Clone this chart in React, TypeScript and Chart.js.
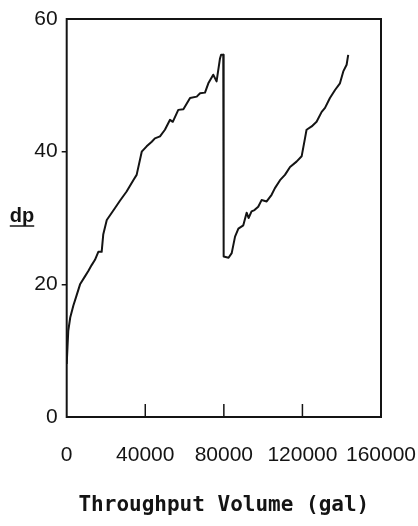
import React, { useEffect, useRef } from "react";
import { Chart, registerables } from "chart.js";

Chart.register(...registerables);

// Throughput volume (gal)
const volume = [
  0, 400, 800, 1800, 3400, 5000, 6800, 9300, 11000, 12700, 14400, 16100, 17800, 18600, 20400,
  22500, 24600, 27100, 30500, 33900, 35600, 38200, 40700, 43300, 44900, 47500, 50000, 52600,
  54000, 56800, 59400, 62800, 66200, 67900, 70400, 72100, 74600, 76300, 78000, 78600, 79700,
  79900, 82400, 84000, 85700, 87400, 89900, 91600, 92600, 94100, 95600, 97500, 99200, 101800,
  104300, 106000, 108600, 111100, 113700, 117000, 119600, 121300, 122100, 124700, 127200,
  129800, 131500, 134000, 136600, 139100, 140800, 142500, 143300,
];
// dp
const dp = [
  8.0, 10.5, 13.0, 15.0, 16.8, 18.3, 20.0, 21.2, 22.0, 22.9, 23.7, 24.9, 24.9, 27.5, 29.7,
  30.6, 31.5, 32.6, 34.0, 35.7, 36.5, 40.0, 40.8, 41.5, 42.0, 42.3, 43.3, 44.8,
  44.5, 46.3, 46.4, 48.1, 48.3, 48.8, 48.9, 50.3, 51.6, 50.6, 54.0, 54.6, 54.6,
  24.2, 24.0, 24.7, 27.2, 28.4, 28.9, 30.8, 30.0, 31.0, 31.2, 31.7, 32.7, 32.5,
  33.5, 34.5, 35.7, 36.5, 37.7, 38.5, 39.3, 42.0, 43.3, 43.8, 44.5,
  46.0, 46.6, 48.1, 49.3, 50.3, 52.1, 53.1, 54.6,
];

const xTickValues = [0, 40000, 80000, 120000, 160000];
const yTickValues = [0, 20, 40, 60];
const innerXTicks = [40000, 80000, 120000];
const markedYTicks = [20, 40];
const xTitle = "Throughput Volume (gal)";
const yTitle = "dp";

const INK = "#141414";

const framePlugin = {
  id: "frame",
  afterDraw(chart: any) {
    const { ctx, chartArea: a, scales } = chart;
    ctx.save();
    ctx.strokeStyle = INK;
    ctx.lineWidth = 2;
    ctx.strokeRect(a.left, a.top, a.right - a.left, a.bottom - a.top);
    ctx.lineWidth = 1.5;
    innerXTicks.forEach((v) => {
      const x = scales.x.getPixelForValue(v);
      ctx.beginPath();
      ctx.moveTo(x, a.bottom);
      ctx.lineTo(x, a.bottom - 13);
      ctx.stroke();
    });
    // y title with underline
    ctx.font = "bold 20px 'Liberation Sans'";
    ctx.fillStyle = INK;
    ctx.textAlign = "center";
    ctx.textBaseline = "alphabetic";
    const cx = 22;
    const by = 222;
    ctx.fillText(yTitle, cx, by);
    const w = ctx.measureText(yTitle).width;
    ctx.lineWidth = 1.5;
    ctx.beginPath();
    ctx.moveTo(cx - w / 2, by + 4);
    ctx.lineTo(cx + w / 2, by + 4);
    ctx.stroke();
    ctx.restore();
  },
};

export default function App() {
  const ref = useRef<HTMLCanvasElement>(null);
  useEffect(() => {
    if (!ref.current) return;
    const chart = new Chart(ref.current, {
      type: "line",
      data: {
        datasets: [
          {
            data: volume.map((v, i) => ({ x: v, y: dp[i] })),
            borderColor: INK,
            borderWidth: 2,
            pointRadius: 0,
            tension: 0,
            fill: false,
            borderJoinStyle: "round",
          },
        ],
      },
      options: {
        animation: false,
        responsive: false,
        layout: { padding: { top: 19, right: 37, bottom: 0, left: 0 } },
        plugins: { legend: { display: false }, tooltip: { enabled: false } },
        scales: {
          x: {
            type: "linear",
            min: 0,
            max: 160000,
            afterBuildTicks: (s: any) => {
              s.ticks = xTickValues.map((v) => ({ value: v }));
            },
            afterFit: (s: any) => {
              s.height = 109;
              s.paddingLeft = 0;
              s.paddingRight = 0;
            },
            grid: { display: false, drawTicks: false },
            border: { display: false },
            ticks: {
              autoSkip: false,
              maxRotation: 0,
              padding: 26,
              color: INK,
              font: { family: "'Liberation Sans'", size: 21 },
              callback: (v: any) => String(v),
            },
            title: {
              display: true,
              text: xTitle,
              color: INK,
              font: { family: "'DejaVu Sans Mono'", size: 21, weight: "bold" },
              padding: { top: 0, bottom: 8 },
            },
          },
          y: {
            min: 0,
            max: 60,
            afterBuildTicks: (s: any) => {
              s.ticks = yTickValues.map((v) => ({ value: v }));
            },
            afterFit: (s: any) => {
              s.width = 66.7;
              s.paddingTop = 0;
              s.paddingBottom = 0;
            },
            grid: {
              drawOnChartArea: false,
              drawTicks: true,
              tickLength: 5,
              lineWidth: 1.5,
              color: (c: any) => (markedYTicks.includes(c.tick?.value) ? INK : "rgba(0,0,0,0)"),
            },
            border: { display: false },
            ticks: {
              padding: 4,
              color: INK,
              font: { family: "'Liberation Sans'", size: 21 },
              callback: (v: any) => String(v),
            },
          },
        },
      },
      plugins: [framePlugin],
    } as any);
    return () => chart.destroy();
  }, []);
  return (
    <canvas
      ref={ref}
      width={418}
      height={526}
      style={{ position: "fixed", left: 0, top: 0, width: 418, height: 526, display: "block", background: "#fff" }}
    />
  );
}
